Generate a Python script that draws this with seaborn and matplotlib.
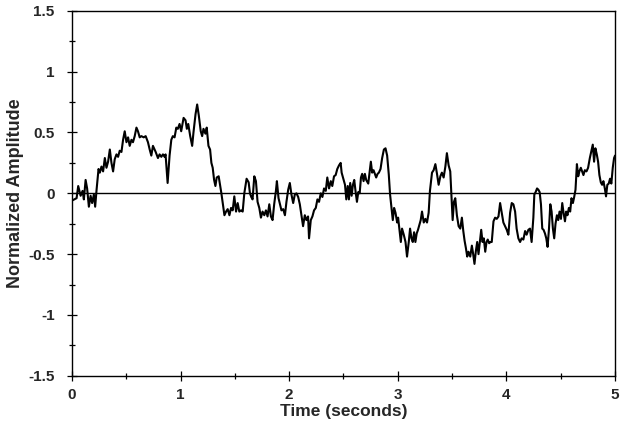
import matplotlib
matplotlib.use("Agg")
import matplotlib.pyplot as plt
from matplotlib.ticker import MultipleLocator, FuncFormatter
import seaborn as sns
import pandas as pd

# Sampled trace: time (s) and normalized amplitude
time_s = [
    0.000, 0.043, 0.058, 0.080, 0.098, 0.110, 0.126, 0.140, 0.156, 0.172,
    0.186, 0.202, 0.214, 0.227, 0.245, 0.257, 0.272, 0.287, 0.303, 0.318,
    0.333, 0.349, 0.364, 0.379, 0.394, 0.410, 0.425, 0.440, 0.456, 0.471,
    0.486, 0.502, 0.517, 0.532, 0.548, 0.562, 0.578, 0.594, 0.608, 0.624,
    0.639, 0.661, 0.679, 0.700, 0.716, 0.731, 0.746, 0.771, 0.792, 0.807,
    0.823, 0.838, 0.853, 0.862, 0.881, 0.899, 0.915, 0.929, 0.945, 0.961,
    0.975, 0.991, 1.006, 1.028, 1.046, 1.058, 1.071, 1.089, 1.107, 1.119,
    1.138, 1.153, 1.168, 1.186, 1.199, 1.211, 1.229, 1.241, 1.257, 1.272,
    1.284, 1.296, 1.309, 1.321, 1.333, 1.351, 1.364, 1.376, 1.388, 1.404,
    1.419, 1.434, 1.450, 1.465, 1.480, 1.495, 1.511, 1.526, 1.541, 1.557,
    1.572, 1.587, 1.608, 1.627, 1.639, 1.651, 1.663, 1.679, 1.694, 1.709,
    1.725, 1.740, 1.755, 1.771, 1.786, 1.801, 1.817, 1.832, 1.847, 1.862,
    1.878, 1.887, 1.902, 1.915, 1.929, 1.945, 1.961, 1.975, 1.991, 2.006,
    2.021, 2.037, 2.052, 2.067, 2.083, 2.098, 2.113, 2.128, 2.144, 2.159,
    2.174, 2.183, 2.199, 2.214, 2.229, 2.245, 2.260, 2.275, 2.291, 2.306,
    2.321, 2.337, 2.351, 2.367, 2.383, 2.397, 2.413, 2.428, 2.443, 2.459,
    2.474, 2.483, 2.495, 2.514, 2.526, 2.539, 2.550, 2.562, 2.575, 2.587,
    2.599, 2.612, 2.624, 2.636, 2.649, 2.661, 2.672, 2.685, 2.697, 2.709,
    2.728, 2.740, 2.752, 2.764, 2.777, 2.789, 2.801, 2.814, 2.826, 2.841,
    2.856, 2.872, 2.887, 2.902, 2.917, 2.929, 2.942, 2.954, 2.966, 2.979,
    2.994, 3.003, 3.016, 3.028, 3.039, 3.055, 3.071, 3.085, 3.101, 3.113,
    3.126, 3.138, 3.150, 3.162, 3.174, 3.186, 3.199, 3.211, 3.223, 3.239,
    3.254, 3.269, 3.284, 3.296, 3.315, 3.330, 3.346, 3.361, 3.376, 3.392,
    3.406, 3.422, 3.438, 3.452, 3.468, 3.483, 3.493, 3.505, 3.517, 3.529,
    3.544, 3.560, 3.575, 3.590, 3.603, 3.615, 3.627, 3.639, 3.651, 3.667,
    3.682, 3.694, 3.706, 3.718, 3.731, 3.743, 3.755, 3.768, 3.780, 3.792,
    3.805, 3.817, 3.828, 3.841, 3.853, 3.865, 3.881, 3.896, 3.911, 3.927,
    3.942, 3.957, 3.972, 3.988, 4.003, 4.018, 4.034, 4.049, 4.064, 4.080,
    4.094, 4.110, 4.126, 4.140, 4.156, 4.172, 4.186, 4.202, 4.217, 4.232,
    4.248, 4.257, 4.269, 4.282, 4.294, 4.306, 4.318, 4.330, 4.342, 4.355,
    4.367, 4.379, 4.392, 4.404, 4.416, 4.428, 4.440, 4.452, 4.465, 4.477,
    4.489, 4.502, 4.514, 4.526, 4.539, 4.550, 4.562, 4.575, 4.587, 4.599,
    4.612, 4.624, 4.636, 4.649, 4.661, 4.672, 4.685, 4.697, 4.709, 4.722,
    4.737, 4.752, 4.768, 4.783, 4.795, 4.807, 4.819, 4.832, 4.844, 4.856,
    4.869, 4.881, 4.893, 4.906, 4.917, 4.929, 4.942, 4.954, 4.966, 4.979,
    4.991, 5.000,
]

amplitude = [
    -0.06, -0.04, 0.06, -0.02, 0.02, -0.05, 0.11, 0.04, -0.11, -0.02,
    -0.08, -0.01, -0.11, 0.03, 0.20, 0.17, 0.22, 0.18, 0.29, 0.21,
    0.26, 0.36, 0.25, 0.18, 0.28, 0.32, 0.30, 0.35, 0.34, 0.44,
    0.51, 0.42, 0.46, 0.39, 0.44, 0.42, 0.47, 0.54, 0.51, 0.46,
    0.47, 0.46, 0.47, 0.42, 0.36, 0.31, 0.39, 0.34, 0.29, 0.32,
    0.30, 0.32, 0.30, 0.32, 0.085, 0.31, 0.44, 0.47, 0.46, 0.54,
    0.53, 0.57, 0.51, 0.62, 0.60, 0.53, 0.57, 0.47, 0.39, 0.50,
    0.65, 0.73, 0.64, 0.51, 0.47, 0.53, 0.49, 0.54, 0.39, 0.36,
    0.25, 0.21, 0.11, 0.06, 0.13, 0.14, 0.07, 0.00, -0.08, -0.18,
    -0.15, -0.13, -0.18, -0.12, -0.14, -0.025, -0.15, -0.08, -0.15, -0.14,
    -0.15, 0.00, 0.12, 0.09, 0.00, -0.03, -0.05, 0.14, 0.10, -0.07,
    -0.12, -0.20, -0.15, -0.18, -0.14, -0.19, -0.09, -0.19, -0.22, -0.09,
    0.02, 0.10, -0.04, -0.09, -0.14, -0.13, -0.18, -0.07, 0.03, 0.085,
    -0.01, -0.08, -0.01, 0.00, -0.03, -0.09, -0.18, -0.27, -0.18, -0.22,
    -0.19, -0.37, -0.22, -0.19, -0.14, -0.12, -0.05, -0.07, 0.00, -0.03,
    0.04, 0.02, 0.13, 0.04, 0.10, 0.06, 0.14, 0.15, 0.20, 0.23,
    0.25, 0.17, 0.13, 0.07, -0.05, 0.06, -0.05, 0.085, -0.02, 0.07,
    0.11, 0.01, -0.07, 0.01, 0.00, 0.13, 0.16, 0.10, 0.16, 0.11,
    0.08, 0.17, 0.26, 0.17, 0.19, 0.16, 0.13, 0.16, 0.17, 0.20,
    0.29, 0.36, 0.37, 0.31, 0.155, -0.01, -0.12, -0.22, -0.12, -0.16,
    -0.24, -0.20, -0.30, -0.40, -0.29, -0.34, -0.40, -0.52, -0.40, -0.29,
    -0.37, -0.40, -0.32, -0.40, -0.33, -0.30, -0.26, -0.22, -0.15, -0.24,
    -0.21, -0.24, -0.16, 0.02, 0.17, 0.19, 0.24, 0.16, 0.07, 0.14,
    0.17, 0.13, 0.22, 0.33, 0.23, 0.18, -0.01, -0.22, -0.07, -0.04,
    -0.18, -0.27, -0.29, -0.20, -0.31, -0.39, -0.45, -0.52, -0.48, -0.52,
    -0.43, -0.50, -0.58, -0.48, -0.40, -0.50, -0.40, -0.30, -0.40, -0.37,
    -0.48, -0.40, -0.38, -0.41, -0.40, -0.40, -0.23, -0.20, -0.21, -0.19,
    -0.08, -0.16, -0.24, -0.27, -0.30, -0.34, -0.16, -0.08, -0.09, -0.15,
    -0.29, -0.37, -0.40, -0.37, -0.38, -0.31, -0.34, -0.30, -0.29, -0.40,
    -0.20, -0.01, 0.01, 0.04, 0.03, 0.01, -0.09, -0.29, -0.30, -0.33,
    -0.37, -0.44, -0.29, -0.09, -0.15, -0.29, -0.37, -0.25, -0.18, -0.22,
    -0.15, -0.21, -0.08, -0.16, -0.23, -0.15, -0.18, -0.12, -0.15, -0.04,
    -0.08, -0.03, 0.03, 0.24, 0.14, 0.18, 0.21, 0.18, 0.15, 0.19,
    0.18, 0.21, 0.29, 0.35, 0.40, 0.26, 0.37, 0.32, 0.26, 0.15,
    0.09, 0.07, 0.10, 0.04, -0.025, 0.07, 0.08, 0.12, 0.08, 0.21,
    0.29, 0.31,
]

y_ticks = [-1.5, -1, -0.5, 0, 0.5, 1, 1.5]
x_ticks = [0, 1, 2, 3, 4, 5]

sns.set_style("ticks")
plt.rcParams["font.family"] = ["Liberation Sans", "DejaVu Sans"]
plt.rcParams["axes.unicode_minus"] = False

df = pd.DataFrame({"Time": time_s, "Amplitude": amplitude})

fig = plt.figure(figsize=(6.2, 4.32), dpi=100)
ax = fig.add_axes([0.116, 0.130, 0.876, 0.845])

ax.axhline(0, color="black", lw=1.0, zorder=1)
sns.lineplot(data=df, x="Time", y="Amplitude", ax=ax, color="black",
             lw=1.5, estimator=None, sort=False, zorder=2)

ax.set_xlim(0, 5)
ax.set_ylim(-1.5, 1.5)
ax.set_xticks(x_ticks)
ax.set_yticks(y_ticks)
ax.xaxis.set_minor_locator(MultipleLocator(0.5))
ax.yaxis.set_minor_locator(MultipleLocator(0.25))
fmt = FuncFormatter(lambda v, p: f"{v:g}")
ax.xaxis.set_major_formatter(fmt)
ax.yaxis.set_major_formatter(fmt)

for side in ["top", "right", "bottom", "left"]:
    ax.spines[side].set_visible(True)
    ax.spines[side].set_linewidth(1.0)
    ax.spines[side].set_color("black")

ax.tick_params(which="both", direction="inout", color="black", width=0.9)
ax.tick_params(which="major", length=7, labelsize=11)
ax.tick_params(axis="y", which="major", pad=9)
ax.tick_params(axis="x", which="major", pad=5)
ax.tick_params(which="minor", length=5)
for lab in ax.get_xticklabels() + ax.get_yticklabels():
    lab.set_fontweight("bold")

ax.set_xlabel("Time (seconds)", fontsize=12.5, fontweight="bold", labelpad=2)
ax.set_ylabel("Normalized Amplitude", fontsize=13, fontweight="bold")
ax.yaxis.set_label_coords(-0.088, 0.5)

fig.savefig("out.png", dpi=100)
